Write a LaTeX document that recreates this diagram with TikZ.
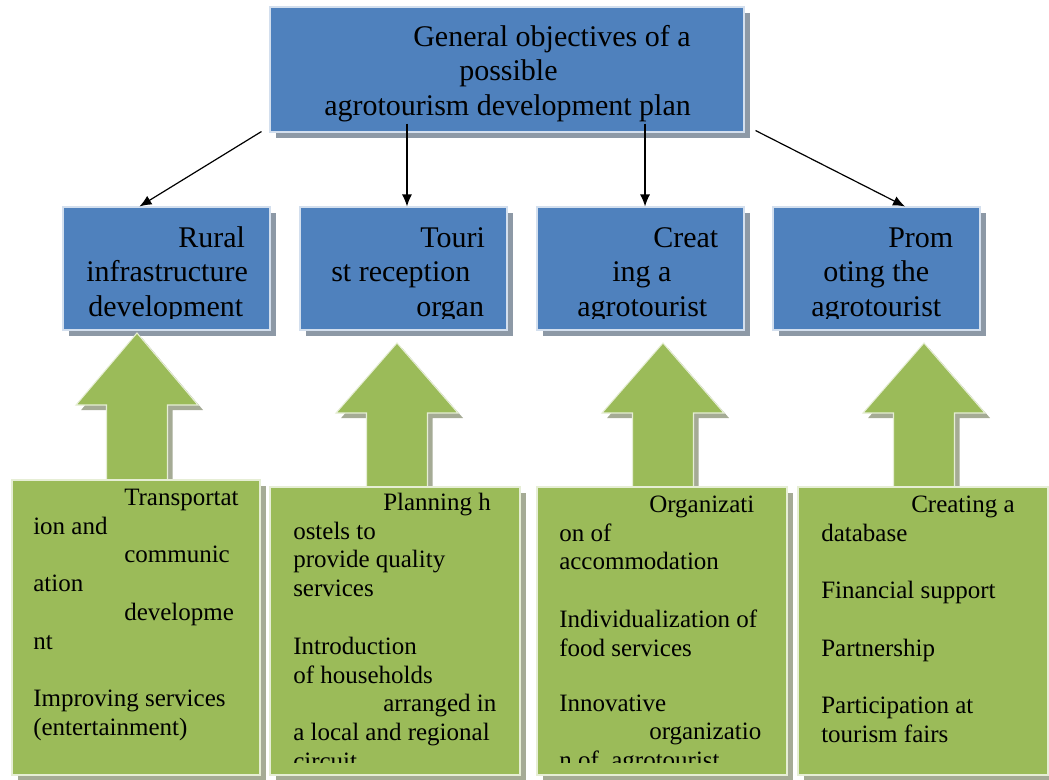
\documentclass[tikz,border=0pt]{standalone}
\usepackage{fontspec}
\setmainfont{Liberation Serif}
\usetikzlibrary{arrows.meta,shadows,calc}

\definecolor{boxblue}{HTML}{4F81BD}
\definecolor{leafgreen}{HTML}{9BBB59}
\definecolor{blueshade}{HTML}{8D99A6}
\definecolor{greenshade}{HTML}{A5AB95}

\begin{document}
\begin{tikzpicture}[x=0.75pt, y=-0.75pt,
    goalbox/.style = {rectangle, fill=boxblue, draw=white!75!boxblue, line width=0.8pt, inner sep=0pt,
      drop shadow={shadow xshift=4.5pt, shadow yshift=-4.5pt, opacity=1, fill=blueshade}},
    subbox/.style = {goalbox, minimum width=155.25pt, minimum height=92.25pt},
    taskbox/.style = {rectangle, fill=leafgreen, draw=white!75!leafgreen, line width=0.8pt, inner sep=0pt,
      drop shadow={shadow xshift=4.5pt, shadow yshift=-4.5pt, opacity=1, fill=greenshade}},
    bigarrow/.style = {fill=leafgreen, draw=white!75!leafgreen, line width=0.8pt,
      drop shadow={shadow xshift=3.8pt, shadow yshift=-3.8pt, opacity=1, fill=greenshade}},
    conn/.style = {-{Latex[length=9pt, width=7.5pt]}, line width=0.9pt},
    bigtxt/.style = {anchor=north west, inner sep=0pt, align=left, font=\fontsize{22.5}{25.9}\selectfont},
    smalltxt/.style = {anchor=north west, inner sep=0pt, align=left, font=\fontsize{18.75}{21.6}\selectfont}]

    \useasboundingbox (0,0) rectangle (1049,780);

    % top level
    \node[goalbox, minimum width=355.5pt, minimum height=93.75pt] (goal) at (507,69.5) {};
    \node[bigtxt] (goaltxt) at (324,21.9)
      {\strut\hspace*{66.75pt}General objectives of a\\ \hspace*{101.25pt}possible\\ agrotourism development plan};

    % second level
    \node[subbox] (rural)  at (166.5,268.5) {};
    \node[subbox] (tour)   at (403.5,268.5) {};
    \node[subbox] (create) at (640.5,268.5) {};
    \node[subbox] (promo)  at (876.5,268.5) {};

    \begin{scope}
      \clip (rural.north west) rectangle ([yshift=9pt]rural.south east);
      \node[bigtxt] (ruraltxt) at (86,222.9)
        {\strut\hspace*{69pt}Rural\\ infrastructure\\ \hspace*{1.5pt}development};
    \end{scope}
    \begin{scope}
      \clip (tour.north west) rectangle ([yshift=9pt]tour.south east);
      \node[bigtxt] (tourtxt) at (331,222.9)
        {\strut\hspace*{66.75pt}Touri\\ st reception\\ \hspace*{63.75pt}organ};
    \end{scope}
    \begin{scope}
      \clip (create.north west) rectangle ([yshift=9pt]create.south east);
      \node[bigtxt] (createtxt) at (577,222.9)
        {\strut\hspace*{57pt}Creat\\ \hspace*{26.25pt}ing a\\ agrotourist};
    \end{scope}
    \begin{scope}
      \clip (promo.north west) rectangle ([yshift=9pt]promo.south east);
      \node[bigtxt] (promotxt) at (811,222.9)
        {\strut\hspace*{57.75pt}Prom\\ \hspace*{9pt}oting the\\ agrotourist};
    \end{scope}

    \draw[conn] ($(goal.south west)+(-8,-1)$) -- ($(rural.north)+(-27,0)$);
    \draw[conn] ([xshift=2.6pt,yshift=6.75pt]tour.north |- goal.south) -- ([xshift=2.6pt]tour.north);
    \draw[conn] ([xshift=3.4pt,yshift=6.75pt]create.north |- goal.south) -- ([xshift=3.4pt]create.north);
    \draw[conn] ($(goal.south east)+(11,-2)$) -- ($(promo.north)+(28.5,0)$);

    % block arrows
    \foreach \cx/\ty/\hy/\by in {137/333/405/482, 397/343/413/489, 663/343/413/489, 924/343/413/489}
    {
      \path[bigarrow] (\cx,\ty) -- (\cx+61,\hy) -- (\cx+30.5,\hy) -- (\cx+30.5,\by)
        -- (\cx-30.5,\by) -- (\cx-30.5,\hy) -- (\cx-61,\hy) -- cycle;
    }

    % bottom level
    \node[taskbox, minimum width=186pt, minimum height=221.25pt] (ruraltask)  at (136,627.5) {};
    \node[taskbox, minimum width=187.5pt, minimum height=216pt]  (tourtask)   at (395,631) {};
    \node[taskbox, minimum width=187.5pt, minimum height=216pt]  (createtask) at (662,631) {};
    \node[taskbox, minimum width=187.5pt, minimum height=216pt]  (promotask)  at (923,631) {};

    \begin{scope}
      \clip (ruraltask.north west) rectangle ([yshift=9pt]ruraltask.south east);
      \node[smalltxt] (ruraltasktxt) at (33,484.8)
        {\strut\hspace*{68.25pt}Transportat\\ ion and\\ \hspace*{68.25pt}communic\\ ation\\
         \hspace*{68.25pt}developme\\ nt\\[21.6pt] Improving services\\ (entertainment)};
    \end{scope}
    \begin{scope}
      \clip (tourtask.north west) rectangle ([yshift=9.75pt]tourtask.south east);
      \node[smalltxt] (tourtasktxt) at (293,489.8)
        {\strut\hspace*{67.5pt}Planning h\\ ostels to\\ provide quality\\ services\\[21.6pt]
         Introduction\\ of households\\ \hspace*{67.5pt}arranged in\\ a local and regional\\ circuit};
    \end{scope}
    \begin{scope}
      \clip (createtask.north west) rectangle ([yshift=9.75pt]createtask.south east);
      \node[smalltxt] (createtasktxt) at (559,491.8)
        {\strut\hspace*{67.5pt}Organizati\\ on of\\ accommodation\\[21.6pt]
         Individualization of\\ food services\\[19.5pt] Innovative\\
         \hspace*{67.5pt}organizatio\\ n of\ \ agrotourist};
    \end{scope}
    \begin{scope}
      \clip (promotask.north west) rectangle ([yshift=9.75pt]promotask.south east);
      \node[smalltxt] (promotasktxt) at (821,491.8)
        {\strut\hspace*{67.5pt}Creating a\\ database\\[21.6pt] Financial support\\[21.6pt]
         Partnership\\[21.6pt] Participation at\\ tourism fairs};
    \end{scope}
  \end{tikzpicture}
\end{document}
